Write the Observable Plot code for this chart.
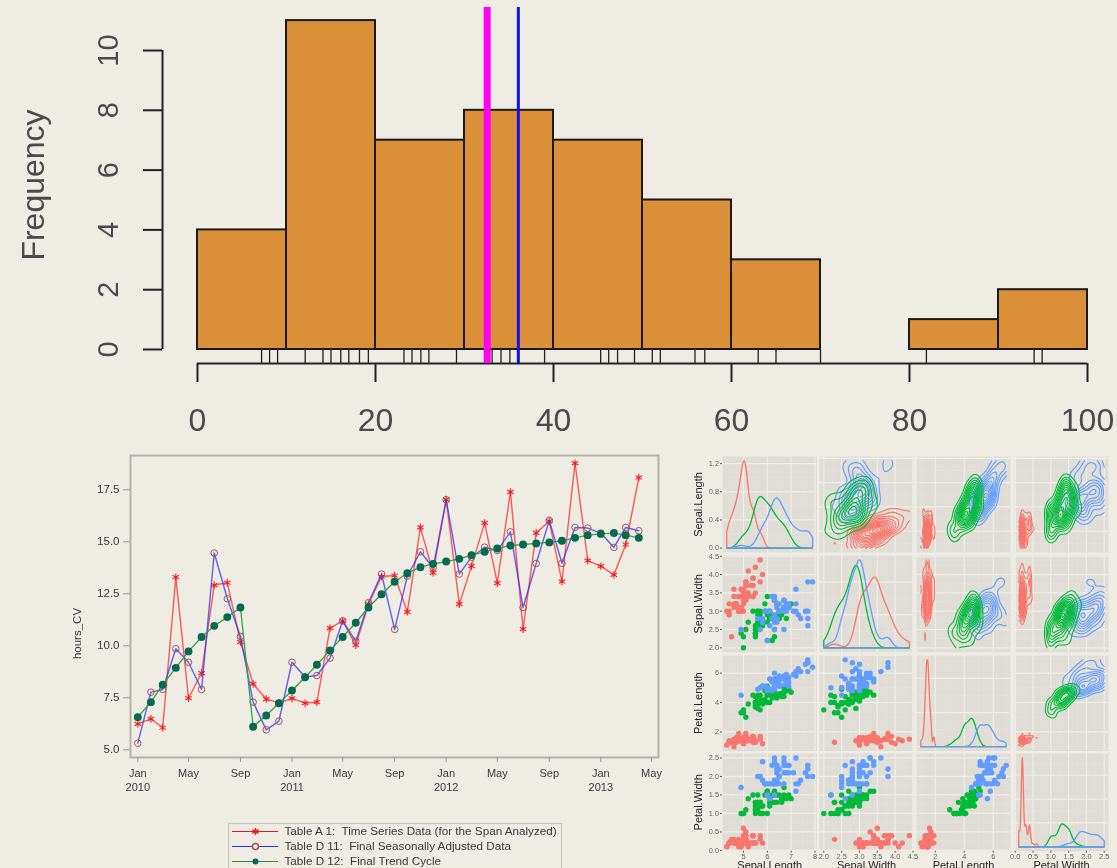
<!DOCTYPE html>
<html><head><meta charset="utf-8">
<script src="https://cdn.jsdelivr.net/npm/d3@7"></script>
<script src="https://cdn.jsdelivr.net/npm/@observablehq/plot@0.6"></script>
<style>
html,body{margin:0;padding:0;background:#efece4;overflow:hidden}
#chart{position:relative;width:1117px;height:868px;overflow:hidden;font-family:"Liberation Sans",Arial,sans-serif}
#hist{filter:blur(.7px)} #line{filter:blur(.55px)} #pairs{filter:blur(.5px)}
</style></head><body><div id="chart"><div id="hist"></div><div id="line"></div><div id="pairs"></div></div>
<script>
// ---------- histogram ----------
const binStarts=[0,10,20,30,40,50,60,70,80,90];
const binEnds=[10,20,30,40,50,60,70,80,90,100];
const binCounts=[4,11,7,8,7,5,3,0,1,2];
const rugValues=[7.2,8.1,9,12.1,14.1,15,16.1,17,18.2,19.2,23.2,24.1,25.1,26,29.1,33.1,34.1,35.1,39,45.3,46.2,47.2,49.1,51.1,52,55.9,57,63,65,70,81.9,94,94.9];
const histXTicks=[0,20,40,60,80,100];
const histYTicks=[0,2,4,6,8,10];
const medianLine=[32.55], meanLine=[36.05];
// ---------- time series ----------
const monthLabels=["2010-01","2010-05","2010-09","2011-01","2011-05","2011-09","2012-01","2012-05","2012-09","2013-01","2013-05"];
const tableA1=[6.25,6.49,6.06,13.3,7.48,8.69,12.92,13.03,10.18,8.17,7.44,7.26,7.47,7.24,7.29,10.85,11.2,10.03,12.0,13.33,13.38,11.63,15.69,13.51,17.03,12.0,13.83,15.91,13.01,17.4,10.8,15.43,15.99,13.09,18.78,14.1,13.83,13.41,14.87,18.09];
const tableD11=[5.32,7.77,7.9,9.86,9.21,7.9,14.46,12.26,10.45,7.29,5.96,6.38,9.21,8.5,8.57,9.41,11.2,10.22,12.07,13.45,10.79,13.35,14.52,13.75,17.02,13.45,14.26,14.74,14.58,15.48,11.84,13.96,16.03,13.97,15.69,15.66,15.42,14.73,15.69,15.53];
const tableD12=[6.57,7.29,8.13,8.94,9.73,10.42,10.96,11.38,11.84,6.11,6.65,7.24,7.85,8.49,9.09,9.78,10.42,11.11,11.84,12.48,13.08,13.49,13.78,13.94,14.05,14.18,14.36,14.52,14.68,14.82,14.87,14.92,14.97,15.05,15.19,15.32,15.38,15.42,15.32,15.19];
const lineYTicks=[5,7.5,10,12.5,15,17.5];
const legendLabels=["Table A 1:  Time Series Data (for the Span Analyzed)","Table D 11:  Final Seasonally Adjusted Data","Table D 12:  Final Trend Cycle"];
// ---------- iris (setosa, versicolor, virginica: 50 each) ----------
const sepalLength=[5.1,4.9,4.7,4.6,5.0,5.4,4.6,5.0,4.4,4.9,5.4,4.8,4.8,4.3,5.8,5.7,5.4,5.1,5.7,5.1,5.4,5.1,4.6,5.1,4.8,5.0,5.0,5.2,5.2,4.7,4.8,5.4,5.2,5.5,4.9,5.0,5.5,4.9,4.4,5.1,5.0,4.5,4.4,5.0,5.1,4.8,5.1,4.6,5.3,5.0,
7.0,6.4,6.9,5.5,6.5,5.7,6.3,4.9,6.6,5.2,5.0,5.9,6.0,6.1,5.6,6.7,5.6,5.8,6.2,5.6,5.9,6.1,6.3,6.1,6.4,6.6,6.8,6.7,6.0,5.7,5.5,5.5,5.8,6.0,5.4,6.0,6.7,6.3,5.6,5.5,5.5,6.1,5.8,5.0,5.6,5.7,5.7,6.2,5.1,5.7,
6.3,5.8,7.1,6.3,6.5,7.6,4.9,7.3,6.7,7.2,6.5,6.4,6.8,5.7,5.8,6.4,6.5,7.7,7.7,6.0,6.9,5.6,7.7,6.3,6.7,7.2,6.2,6.1,6.4,7.2,7.4,7.9,6.4,6.3,6.1,7.7,6.3,6.4,6.0,6.9,6.7,6.9,5.8,6.8,6.7,6.7,6.3,6.5,6.2,5.9];
const sepalWidth=[3.5,3.0,3.2,3.1,3.6,3.9,3.4,3.4,2.9,3.1,3.7,3.4,3.0,3.0,4.0,4.4,3.9,3.5,3.8,3.8,3.4,3.7,3.6,3.3,3.4,3.0,3.4,3.5,3.4,3.2,3.1,3.4,4.1,4.2,3.1,3.2,3.5,3.6,3.0,3.4,3.5,2.3,3.2,3.5,3.8,3.0,3.8,3.2,3.7,3.3,
3.2,3.2,3.1,2.3,2.8,2.8,3.3,2.4,2.9,2.7,2.0,3.0,2.2,2.9,2.9,3.1,3.0,2.7,2.2,2.5,3.2,2.8,2.5,2.8,2.9,3.0,2.8,3.0,2.9,2.6,2.4,2.4,2.7,2.7,3.0,3.4,3.1,2.3,3.0,2.5,2.6,3.0,2.6,2.3,2.7,3.0,2.9,2.9,2.5,2.8,
3.3,2.7,3.0,2.9,3.0,3.0,2.5,2.9,2.5,3.6,3.2,2.7,3.0,2.5,2.8,3.2,3.0,3.8,2.6,2.2,3.2,2.8,2.8,2.7,3.3,3.2,2.8,3.0,2.8,3.0,2.8,3.8,2.8,2.8,2.6,3.0,3.4,3.1,3.0,3.1,3.1,3.1,2.7,3.2,3.3,3.0,2.5,3.0,3.4,3.0];
const petalLength=[1.4,1.4,1.3,1.5,1.4,1.7,1.4,1.5,1.4,1.5,1.5,1.6,1.4,1.1,1.2,1.5,1.3,1.4,1.7,1.5,1.7,1.5,1.0,1.7,1.9,1.6,1.6,1.5,1.4,1.6,1.6,1.5,1.5,1.4,1.5,1.2,1.3,1.4,1.3,1.5,1.3,1.3,1.3,1.6,1.9,1.4,1.6,1.4,1.5,1.4,
4.7,4.5,4.9,4.0,4.6,4.5,4.7,3.3,4.6,3.9,3.5,4.2,4.0,4.7,3.6,4.4,4.5,4.1,4.5,3.9,4.8,4.0,4.9,4.7,4.3,4.4,4.8,5.0,4.5,3.5,3.8,3.7,3.9,5.1,4.5,4.5,4.7,4.4,4.1,4.0,4.4,4.6,4.0,3.3,4.2,4.2,4.2,4.3,3.0,4.1,
6.0,5.1,5.9,5.6,5.8,6.6,4.5,6.3,5.8,6.1,5.1,5.3,5.5,5.0,5.1,5.3,5.5,6.7,6.9,5.0,5.7,4.9,6.7,4.9,5.7,6.0,4.8,4.9,5.6,5.8,6.1,6.4,5.6,5.1,5.6,6.1,5.6,5.5,4.8,5.4,5.6,5.1,5.1,5.9,5.7,5.2,5.0,5.2,5.4,5.1];
const petalWidth=[.2,.2,.2,.2,.2,.4,.3,.2,.2,.1,.2,.2,.1,.1,.2,.4,.4,.3,.3,.3,.2,.4,.2,.5,.2,.2,.4,.2,.2,.2,.2,.4,.1,.2,.2,.2,.2,.1,.2,.2,.3,.3,.2,.6,.4,.3,.2,.2,.2,.2,
1.4,1.5,1.5,1.3,1.5,1.3,1.6,1.0,1.3,1.4,1.0,1.5,1.0,1.4,1.3,1.4,1.5,1.0,1.5,1.1,1.8,1.3,1.5,1.2,1.3,1.4,1.4,1.7,1.5,1.0,1.1,1.0,1.2,1.6,1.5,1.6,1.5,1.3,1.3,1.3,1.2,1.4,1.2,1.0,1.3,1.2,1.3,1.3,1.1,1.3,
2.5,1.9,2.1,1.8,2.2,2.1,1.7,1.8,1.8,2.5,2.0,1.9,2.1,2.0,2.4,2.3,1.8,2.2,2.3,1.5,2.3,2.0,2.0,1.8,2.1,1.8,1.8,1.8,2.1,1.6,1.9,2.0,2.2,1.5,1.4,2.3,2.4,1.8,1.8,2.1,2.4,2.3,1.9,2.3,2.5,2.3,1.9,2.0,2.3,1.8];
const varNames=["Sepal.Length","Sepal.Width","Petal.Length","Petal.Width"];
const varValues=[sepalLength,sepalWidth,petalLength,petalWidth];
const varTicks=[[5,6,7,8],[2,2.5,3,3.5,4,4.5],[2,4,6],[0,.5,1,1.5,2,2.5]];
const varFormats=["d",".1f","d",".1f"];
const densityTicks=[0,.4,.8,1.2];
const speciesColors=["#F8766D","#00BA38","#619CFF"];

const BG="#efece4";
const base=(l,t)=>({position:"absolute",left:l+"px",top:t+"px",background:"transparent",overflow:"visible",maxWidth:"none"});
const INK="#3a3a3a";

// ===== Histogram =====
const rugEnd=-0.47;
document.getElementById("hist").append(Plot.plot({
  width:1117,height:440,marginLeft:162,marginRight:0,marginTop:0,marginBottom:77,
  style:{...base(0,0),fontFamily:"Liberation Sans"},
  x:{domain:[0,100],range:[197,1087],axis:null},
  y:{domain:[0,10],range:[349,50],axis:null},
  marks:[
    Plot.rect(binStarts,{x1:(d,i)=>binStarts[i],x2:(d,i)=>binEnds[i],y1:0,y2:(d,i)=>binCounts[i],fill:"#db8f38",stroke:"#1a1a1a",strokeWidth:2}),
    Plot.ruleX(rugValues,{y1:0,y2:rugEnd,stroke:"#222",strokeWidth:1.3}),
    Plot.ruleY([rugEnd],{x1:0,x2:100,stroke:"#222",strokeWidth:2}),
    Plot.ruleX([0],{y1:0,y2:10,dx:-35,stroke:"#222",strokeWidth:2}),
    Plot.axisY({ticks:histYTicks,tickSize:19,tickPadding:26,tickRotate:-90,textAnchor:"middle",fontSize:29,label:null,stroke:"#222",fill:"#4a4a4a",strokeWidth:2}),
    Plot.axisX({ticks:histXTicks,tickSize:19,tickPadding:26,fontSize:32,label:null,stroke:"#222",fill:"#4a4a4a",strokeWidth:2,anchor:"bottom"}),
    Plot.text(["Frequency"],{frameAnchor:"left",textAnchor:"middle",rotate:-90,dx:-129,dy:3,fontSize:32,fill:"#4a4a4a"}),
    Plot.ruleX(medianLine,{y1:rugEnd,y2:11.44,stroke:"#ff00f0",strokeWidth:7}),
    Plot.ruleX(meanLine,{y1:rugEnd,y2:11.44,stroke:"#1010e8",strokeWidth:3})
  ]
}));

// ===== Time series =====
const months=d3.utcMonth.range(new Date(Date.UTC(2010,0,1)),new Date(Date.UTC(2013,4,1)));
const tickDates=monthLabels.map(s=>new Date(s+"-01T00:00:00Z"));
const fmtTick=d=>{const m=d3.utcFormat("%b")(d);return m==="Jan"?m+"\n"+d.getUTCFullYear():m;};
const rows=(arr)=>arr.map((v,i)=>({t:months[i],v}));
const lineEl=document.getElementById("line");
lineEl.append(Plot.plot({
  width:1117,height:800,marginLeft:130,marginRight:459,marginTop:455,marginBottom:43,
  style:{...base(0,0),fontFamily:"Liberation Sans"},
  x:{type:"utc",domain:[tickDates[0],tickDates[tickDates.length-1]],range:[137.3,651],axis:null},
  y:{domain:[5,17.5],range:[749.3,489.3],axis:null},
  marks:[
    Plot.frame({stroke:"#b3b1aa",strokeWidth:2}),
    Plot.axisY({ticks:lineYTicks,tickFormat:d3.format(".1f"),tickSize:7,tickPadding:4,fontSize:11.5,label:null,stroke:"#999",fill:INK}),
    Plot.axisX({ticks:tickDates,tickFormat:fmtTick,tickSize:5,tickPadding:5,fontSize:11,lineHeight:1.27,label:null,stroke:"#999",fill:INK,anchor:"bottom"}),
    Plot.text(["hours_CV"],{frameAnchor:"left",textAnchor:"middle",rotate:-90,dx:-53,dy:27,fontSize:11.5,fill:INK}),
    Plot.line(rows(tableA1),{x:"t",y:"v",stroke:"#fa2a2a",strokeWidth:1.4,strokeOpacity:.75}),
    Plot.dot(rows(tableA1),{x:"t",y:"v",symbol:"asterisk",r:3.5,stroke:"#f81818",strokeWidth:1.1}),
    Plot.line(rows(tableD11),{x:"t",y:"v",stroke:"#3030f0",strokeWidth:1.4,strokeOpacity:.75}),
    Plot.dot(rows(tableD11),{x:"t",y:"v",r:3.3,stroke:"#a85050",strokeWidth:1,fill:"none"}),
    Plot.line(rows(tableD12),{x:"t",y:"v",stroke:"#35a040",strokeWidth:1.3}),
    Plot.dot(rows(tableD12),{x:"t",y:"v",r:3.2,fill:"#066a52",stroke:"#066a52"})
  ]
}));
// legend
const legendColors=["#d02020","#3030e0","#2a9040"];
lineEl.append(Plot.plot({
  width:333,height:60,margin:0,
  style:{...base(228,823),fontFamily:"Liberation Sans"},
  x:{type:"identity",axis:null},
  y:{type:"point",domain:legendLabels,range:[8,38.7],padding:0,axis:null},
  marks:[
    Plot.frame({stroke:"#c8c6bf",strokeWidth:1.2}),
    Plot.ruleY(legendLabels,{y:d=>d,x1:4,x2:50,stroke:(d,i)=>legendColors[i],strokeWidth:1}),
    Plot.dot([legendLabels[0]],{y:d=>d,x:27,symbol:"asterisk",r:3.4,stroke:"#f02020"}),
    Plot.dot([legendLabels[1]],{y:d=>d,x:27,r:3,stroke:"#a85050",fill:BG}),
    Plot.dot([legendLabels[2]],{y:d=>d,x:27,r:3,fill:"#066a52"}),
    Plot.text(legendLabels,{y:d=>d,x:56,text:d=>d,textAnchor:"start",fontSize:11.7,fill:INK})
  ]
}));

// ===== Pairs plot =====
const cols=[[722.3,816.7],[819.3,913.5],[916,1010],[1013.5,1107.5]];
const rowsP=[[455.7,551.7],[555,651.7],[654.5,750],[753.3,851]];
const N=150, groupOf=i=>Math.floor(i/50);
const ext=v=>{const [a,b]=d3.extent(v);const p=(b-a)*.05;return [a-p,b+p];};
const spread=v=>{const s=d3.sort(v);return Math.min(d3.deviation(v),(d3.quantile(s,.75)-d3.quantile(s,.25))/1.34);};
const nrd0=v=>.9*spread(v)*Math.pow(v.length,-.2);
function kde(v,lo,hi){const h=nrd0(v),n=160,out=[];
  out.push({x:lo,y:0});
  for(let i=0;i<=n;i++){const x=lo+(hi-lo)*i/n;
    out.push({x,y:d3.sum(v,d=>Math.exp(-.5*((x-d)/h)**2))/(v.length*h*Math.sqrt(2*Math.PI))});}
  out.push({x:hi,y:0});out.push({x:lo,y:0});return out;}
// 2-D kernel density contours of the data, computed on a grid over the variables' ranges
function contourRows(xs,ys,xr,yr){
  const n=100,hx=1.2*spread(xs)*Math.pow(xs.length,-.2),hy=1.2*spread(ys)*Math.pow(ys.length,-.2);
  const gx=d3.range(n).map(i=>xr[0]+(xr[1]-xr[0])*i/(n-1)),gy=d3.range(n).map(i=>yr[0]+(yr[1]-yr[0])*i/(n-1));
  const kx=gx.map(g=>xs.map(d=>Math.exp(-.5*((g-d)/hx)**2))),ky=gy.map(g=>ys.map(d=>Math.exp(-.5*((g-d)/hy)**2)));
  const z=new Float64Array(n*n);
  for(let j=0;j<n;j++)for(let i=0;i<n;i++){let s=0;for(let k=0;k<xs.length;k++)s+=kx[i][k]*ky[j][k];z[i+j*n]=s/(xs.length*2*Math.PI*hx*hy);}
  const [mn,mx]=d3.extent(z),th=d3.ticks(mn,mx,10).filter(t=>t>mn);
  const out=[];let id=0;
  d3.contours().size([n,n]).thresholds(th)(z).forEach(m=>m.coordinates.forEach(poly=>poly.forEach(ring=>{
    id++;
    ring.forEach(([a,b])=>{
      const edge=a<.5||a>n-.5||b<.5||b>n-.5;
      out.push(edge?{x:NaN,y:NaN,id}:{x:xr[0]+(a-.5)/(n-1)*(xr[1]-xr[0]),y:yr[0]+(b-.5)/(n-1)*(yr[1]-yr[0]),id});
    });
  })));
  return out;
}
function minorsOf(t,dom){const step=t[1]-t[0],all=[];
  for(let i=-1;i<t.length;i++)all.push(t[0]+step*(i+.5));
  return all.filter(d=>d>dom[0]&&d<dom[1]);}
const PANEL="#dfddd6",GRID="#f0eee7",GRIDMIN="#e5e3dc",TICK="#5a5a5a";
const pairsEl=document.getElementById("pairs");
for(let r=0;r<4;r++)for(let c=0;c<4;c++){
  const [x0,x1]=cols[c],[y0,y1]=rowsP[r];
  const ml=c===0?30:0, mb=r===3?17:0;
  const xv=varValues[c],yv=varValues[r];
  const xd=ext(xv),xt=varTicks[c];
  let yd,yt,yf,curves=null;
  if(r===c){
    curves=[0,1,2].map(g=>kde(xv.slice(g*50,g*50+50),d3.min(xv),d3.max(xv)));
    const m=d3.max(curves.flat(),d=>d.y);
    yd=[-m*.05,m*1.05];yt=r===0?densityTicks:d3.ticks(0,m,3);yf=".1f";
  }else{yd=ext(yv);yt=varTicks[r];yf=varFormats[r];}
  const idx=d3.range(N);
  const marks=[
    Plot.frame({fill:PANEL,stroke:"none"}),
    Plot.gridX(minorsOf(xt,xd),{stroke:GRIDMIN,strokeOpacity:1,strokeWidth:.7}),
    Plot.gridY(minorsOf(yt,yd),{stroke:GRIDMIN,strokeOpacity:1,strokeWidth:.7}),
    Plot.gridX(xt.filter(d=>d>xd[0]&&d<xd[1]),{stroke:GRID,strokeOpacity:1,strokeWidth:1.2}),
    Plot.gridY(yt.filter(d=>d>yd[0]&&d<yd[1]),{stroke:GRID,strokeOpacity:1,strokeWidth:1.2})
  ];
  if(curves){
    curves.forEach((k,g)=>marks.push(Plot.line(k,{x:"x",y:"y",stroke:speciesColors[g],strokeWidth:1.3,curve:"linear"})));
  }else if(r>c){
    marks.push(Plot.dot(idx,{x:i=>xv[i],y:i=>yv[i],r:2.7,fill:i=>speciesColors[groupOf(i)],stroke:"none"}));
  }else{
    [0,2,1].forEach(g=>{
      const xs=xv.slice(g*50,g*50+50),ys=yv.slice(g*50,g*50+50);
      marks.push(Plot.line(contourRows(xs,ys,d3.extent(xv),d3.extent(yv)),{x:"x",y:"y",z:"id",stroke:speciesColors[g],strokeWidth:1.1,curve:"linear"}));
    });
  }
  if(c===0){
    marks.push(Plot.axisY({ticks:yt.filter(d=>d>=yd[0]&&d<=yd[1]),tickFormat:d3.format(yf),tickSize:2,tickPadding:1.5,fontSize:7.4,label:null,stroke:TICK,fill:"#666"}));
    marks.push(Plot.text([varNames[r]],{frameAnchor:"left",textAnchor:"middle",rotate:-90,dx:-24,fontSize:11,fill:"#222"}));
  }
  if(r===3){
    marks.push(Plot.axisX({ticks:xt.filter(d=>d>=xd[0]&&d<=xd[1]),tickFormat:d3.format(varFormats[c]),tickSize:2,tickPadding:1,fontSize:7.4,label:null,stroke:TICK,fill:"#666",anchor:"bottom"}));
    marks.push(Plot.text([varNames[c]],{frameAnchor:"bottom",lineAnchor:"middle",dy:14.5,fontSize:11,fill:"#222"}));
  }
  pairsEl.append(Plot.plot({
    width:x1-x0+ml,height:y1-y0+mb,marginLeft:ml,marginRight:0,marginTop:0,marginBottom:mb,
    style:{...base(x0-ml,y0),fontFamily:"Liberation Sans"},
    x:{domain:xd,axis:null},y:{domain:yd,axis:null},
    marks
  }));
}
</script></body></html>
